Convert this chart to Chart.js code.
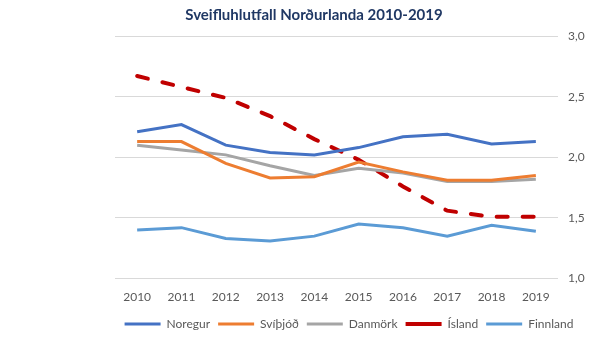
<!DOCTYPE html>
<html>
<head>
<meta charset="utf-8">
<script src="https://cdn.jsdelivr.net/npm/chart.js@4"></script>
<style>
  body { margin: 0; background: #fff; }
  .chart { width: 600px; height: 340px; }
</style>
</head>
<body>
<div class="chart"><canvas id="c" width="600" height="340"></canvas></div>
<script>
const years = ['2010', '2011', '2012', '2013', '2014', '2015', '2016', '2017', '2018', '2019'];
const noregur = [2.21, 2.27, 2.10, 2.04, 2.02, 2.08, 2.17, 2.19, 2.11, 2.13];
const svithjod = [2.13, 2.13, 1.95, 1.83, 1.84, 1.96, 1.88, 1.81, 1.81, 1.85];
const danmork = [2.10, 2.06, 2.02, 1.93, 1.85, 1.91, 1.87, 1.80, 1.80, 1.82];
const island = [2.67, 2.58, 2.49, 2.34, 2.15, 1.98, 1.76, 1.56, 1.51, 1.51];
const finnland = [1.40, 1.42, 1.33, 1.31, 1.35, 1.45, 1.42, 1.35, 1.44, 1.39];

const font = "Lato, 'Open Sans', sans-serif";

const line = (label, data, color, extra) => Object.assign({
  label: label,
  data: data,
  yAxisID: 'y',
  borderColor: color,
  backgroundColor: color,
  borderWidth: 3,
  pointRadius: 0,
  tension: 0,
  pointStyle: 'line'
}, extra || {});

// title and legend are not centred on the canvas in the original, nudge them
const nudge = {
  id: 'nudge',
  afterLayout(chart) {
    chart.titleBlock.left += 20;
    chart.titleBlock.right += 20;
    chart.legend.left += 55;
    chart.legend.right += 55;
  }
};

new Chart(document.getElementById('c').getContext('2d'), {
  type: 'line',
  data: {
    labels: years,
    datasets: [
      line('Noregur', noregur, '#4472C4'),
      line('Svíþjóð', svithjod, '#ED7D31'),
      line('Danmörk', danmork, '#A5A5A5'),
      line('Ísland', island, '#C00000', { borderWidth: 4, borderDash: [11, 15], borderCapStyle: 'round' }),
      // lighter core of the Iceland dashes
      line('', island, '#F6C2C2', { borderWidth: 1.4, borderDash: [11, 15], borderCapStyle: 'round' }),
      line('Finnland', finnland, '#5B9BD5')
    ]
  },
  plugins: [nudge],
  options: {
    responsive: false,
    animation: false,
    layout: { padding: { left: 0, right: 12, top: 4, bottom: 0 } },
    plugins: {
      title: {
        display: true,
        text: 'Sveifluhlutfall Norðurlanda 2010-2019',
        color: '#203864',
        font: { family: font, size: 15, weight: 'bold' },
        padding: { top: 2, bottom: 12 }
      },
      legend: {
        position: 'bottom',
        labels: {
          usePointStyle: true,
          pointStyleWidth: 36,
          boxHeight: 4,
          color: '#595959',
          font: { family: font, size: 12 },
          padding: 8,
          filter: (item) => item.text !== ''
        }
      },
      tooltip: { enabled: false }
    },
    scales: {
      x: {
        offset: true,
        grid: { display: false },
        border: { display: false },
        afterFit: (s) => { s.height += 3; },
        ticks: { color: '#595959', font: { family: font, size: 12 }, maxRotation: 0, padding: 3 }
      },
      y: {
        position: 'right',
        min: 1,
        max: 3,
        grid: { color: '#D9D9D9', drawTicks: false },
        border: { display: false },
        afterFit: (s) => { s.width = 30; },
        ticks: {
          stepSize: 0.5,
          padding: 10,
          color: '#595959',
          font: { family: font, size: 12 },
          callback: (v) => v.toFixed(1).replace('.', ',')
        }
      },
      // empty spacer on the left so the plot sits where it does in the original
      spacer: {
        type: 'linear',
        position: 'left',
        display: true,
        grid: { display: false },
        border: { display: false },
        ticks: { display: false },
        afterFit: (s) => { s.width = 115; }
      }
    }
  }
});
</script>
</body>
</html>
